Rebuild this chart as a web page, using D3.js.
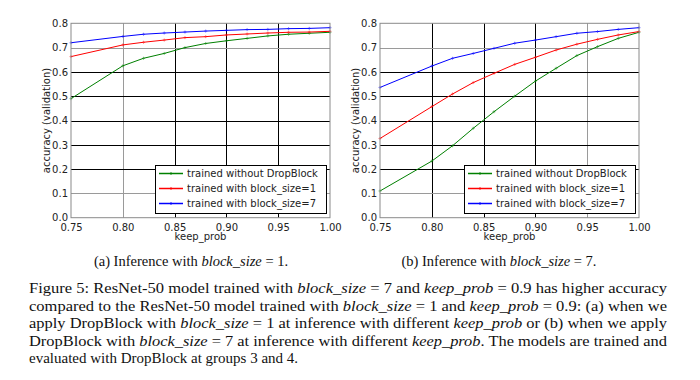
<!DOCTYPE html>
<html><head><meta charset="utf-8">
<script src="https://cdn.jsdelivr.net/npm/d3@7"></script>
<style>body{margin:0;background:#fff}svg{display:block}</style>
</head><body>
<svg id="chart" width="700" height="380"></svg>
<script>
const keepProb = [0.75, 0.80, 0.82, 0.84, 0.86, 0.88, 0.90, 0.92, 0.94, 0.96, 0.98, 1.00];
// (a) inference with block_size = 1
const aNoDrop  = [0.490, 0.625, 0.656, 0.676, 0.700, 0.717, 0.728, 0.738, 0.748, 0.755, 0.759, 0.763];
const aBlock1  = [0.663, 0.711, 0.722, 0.731, 0.741, 0.745, 0.752, 0.756, 0.760, 0.763, 0.764, 0.767];
const aBlock7  = [0.720, 0.746, 0.755, 0.760, 0.764, 0.768, 0.771, 0.774, 0.775, 0.778, 0.779, 0.782];
// (b) inference with block_size = 7
const bNoDrop  = [0.110, 0.233, 0.296, 0.368, 0.436, 0.500, 0.562, 0.615, 0.667, 0.704, 0.738, 0.763];
const bBlock1  = [0.326, 0.457, 0.509, 0.556, 0.594, 0.631, 0.660, 0.690, 0.714, 0.734, 0.752, 0.766];
const bBlock7  = [0.536, 0.624, 0.656, 0.676, 0.697, 0.718, 0.731, 0.745, 0.759, 0.766, 0.775, 0.782];
const seriesNames = ["trained without DropBlock", "trained with block_size=1", "trained with block_size=7"];
const seriesColors = ["#008000", "#ff0000", "#0000ff"];
const xTicks = [0.75, 0.80, 0.85, 0.90, 0.95, 1.00];
const yTicks = [0.0, 0.1, 0.2, 0.3, 0.4, 0.5, 0.6, 0.7, 0.8];
const xLabel = "keep_prob";
const yLabel = "accuracy (validation)";

const svg = d3.select("#chart");
const font = "'DejaVu Sans', sans-serif";

function panel(x0, x1, data, grayX, subParts, subX) {
  const x = d3.scaleLinear().domain([0.75, 1.0]).range([x0, x1]);
  const y = d3.scaleLinear().domain([0, 0.8]).range([217.7, 23.3]);
  const g = svg.append("g");
  // grid
  g.selectAll(".gx").data(xTicks.slice(1, -1)).join("line")
    .attr("x1", d => Math.round(x(d)) + 0.5).attr("x2", d => Math.round(x(d)) + 0.5)
    .attr("y1", y(0)).attr("y2", y(0.8))
    .attr("stroke", d => Math.abs(d - grayX) < 1e-6 ? "#9a9a9a" : "#000").attr("stroke-width", 1);
  g.selectAll(".gy").data(yTicks.slice(1, -1)).join("line")
    .attr("x1", x0).attr("x2", x1)
    .attr("y1", d => Math.round(y(d)) + 0.5).attr("y2", d => Math.round(y(d)) + 0.5)
    .attr("stroke", d => (Math.abs(d - 0.7) < 1e-6 || Math.abs(d - 0.1) < 1e-6) ? "#9a9a9a" : "#000")
    .attr("stroke-width", 1);
  // lines
  const line = d3.line().x((d, i) => x(keepProb[i])).y(d => y(d));
  data.forEach((s, k) => {
    g.append("path").attr("d", line(s)).attr("fill", "none")
      .attr("stroke", seriesColors[k]).attr("stroke-width", 1);
    g.selectAll(null).data(s).join("path")
      .attr("d", (d, i) => `M${x(keepProb[i]) - 1.5},${y(d)}h3M${x(keepProb[i])},${y(d) - 1.5}v3`)
      .attr("stroke", seriesColors[k]).attr("stroke-width", 0.8).attr("opacity", 0.6);
  });
  // frame
  g.append("rect").attr("x", x0).attr("y", y(0.8)).attr("width", x1 - x0).attr("height", y(0) - y(0.8))
    .attr("fill", "none").attr("stroke", "#8a8a8a").attr("stroke-width", 1);
  // ticks
  const xa = g.append("g").attr("transform", `translate(0,${y(0)})`)
    .call(d3.axisBottom(x).tickValues(xTicks).tickFormat(d3.format(".2f")).tickSize(0).tickPadding(6));
  const ya = g.append("g").attr("transform", `translate(${x0},0)`)
    .call(d3.axisLeft(y).tickValues(yTicks).tickFormat(d3.format(".1f")).tickSize(0).tickPadding(3));
  [xa, ya].forEach(a => {
    a.select(".domain").remove();
    a.selectAll("text").attr("font-family", font).attr("font-size", 10).attr("fill", "#222");
  });
  g.append("text").attr("x", (x0 + x1) / 2).attr("y", 240).attr("text-anchor", "middle")
    .attr("font-family", font).attr("font-size", 10).attr("fill", "#222").text(xLabel);
  g.append("text").attr("transform", `translate(${x0 - 21},120.5) rotate(-90)`).attr("text-anchor", "middle")
    .attr("font-family", font).attr("font-size", 10).attr("fill", "#222").text(yLabel);
  // legend
  const lx = x1 - 175, ly = 165;
  g.append("rect").attr("x", lx + 0.5).attr("y", ly + 0.5).attr("width", 171).attr("height", 48)
    .attr("fill", "#fff").attr("stroke", "#000").attr("stroke-width", 1);
  seriesNames.forEach((n, k) => {
    const yy = ly + 8.5 + k * 15;
    g.append("line").attr("x1", lx + 4).attr("x2", lx + 28).attr("y1", yy).attr("y2", yy)
      .attr("stroke", seriesColors[k]).attr("stroke-width", 1.5);
    g.append("path").attr("d", `M${lx + 16},${yy - 1.5}v3`).attr("stroke", seriesColors[k]).attr("stroke-width", 0.8);
    g.append("text").attr("x", lx + 32).attr("y", yy + 3.6).attr("font-family", font).attr("font-size", 10)
      .attr("fill", "#222").text(n);
  });
  // subcaption
  const t = svg.append("text").attr("x", subX).attr("y", 265.5).attr("text-anchor", "middle")
    .attr("font-family", "'Liberation Serif', serif").attr("font-size", 14.5).attr("fill", "#111");
  subParts.forEach(p => t.append("tspan").attr("font-style", p[1] ? "italic" : "normal").text(p[0]));
}

panel(71, 330, [aNoDrop, aBlock1, aBlock7], 0.80,
  [["(a) Inference with ", 0], ["block_size", 1], [" = 1.", 0]], 191);
panel(380, 639, [bNoDrop, bBlock1, bBlock7], 0.95,
  [["(b) Inference with ", 0], ["block_size", 1], [" = 7.", 0]], 499);

const captionLines = [
  [["Figure 5: ResNet-50 model trained with ", 0], ["block_size", 1], [" = 7 and ", 0], ["keep_prob", 1], [" = 0.9 has higher accuracy", 0]],
  [["compared to the ResNet-50 model trained with ", 0], ["block_size", 1], [" = 1 and ", 0], ["keep_prob", 1], [" = 0.9: (a) when we", 0]],
  [["apply DropBlock with ", 0], ["block_size", 1], [" = 1 at inference with different ", 0], ["keep_prob", 1], [" or (b) when we apply", 0]],
  [["DropBlock with ", 0], ["block_size", 1], [" = 7 at inference with different ", 0], ["keep_prob", 1], [". The models are trained and", 0]],
  [["evaluated with DropBlock at groups 3 and 4.", 0]]
];
captionLines.forEach((parts, i) => {
  const t = svg.append("text").attr("x", 29).attr("y", 293.3 + i * 17.5)
    .attr("font-family", "'Liberation Serif', serif").attr("font-size", 15).attr("fill", "#111");
  if (i < captionLines.length - 1) t.attr("textLength", 638).attr("lengthAdjust", "spacingAndGlyphs");
  parts.forEach(p => t.append("tspan").attr("font-style", p[1] ? "italic" : "normal").text(p[0]));
});
</script>
</body></html>
